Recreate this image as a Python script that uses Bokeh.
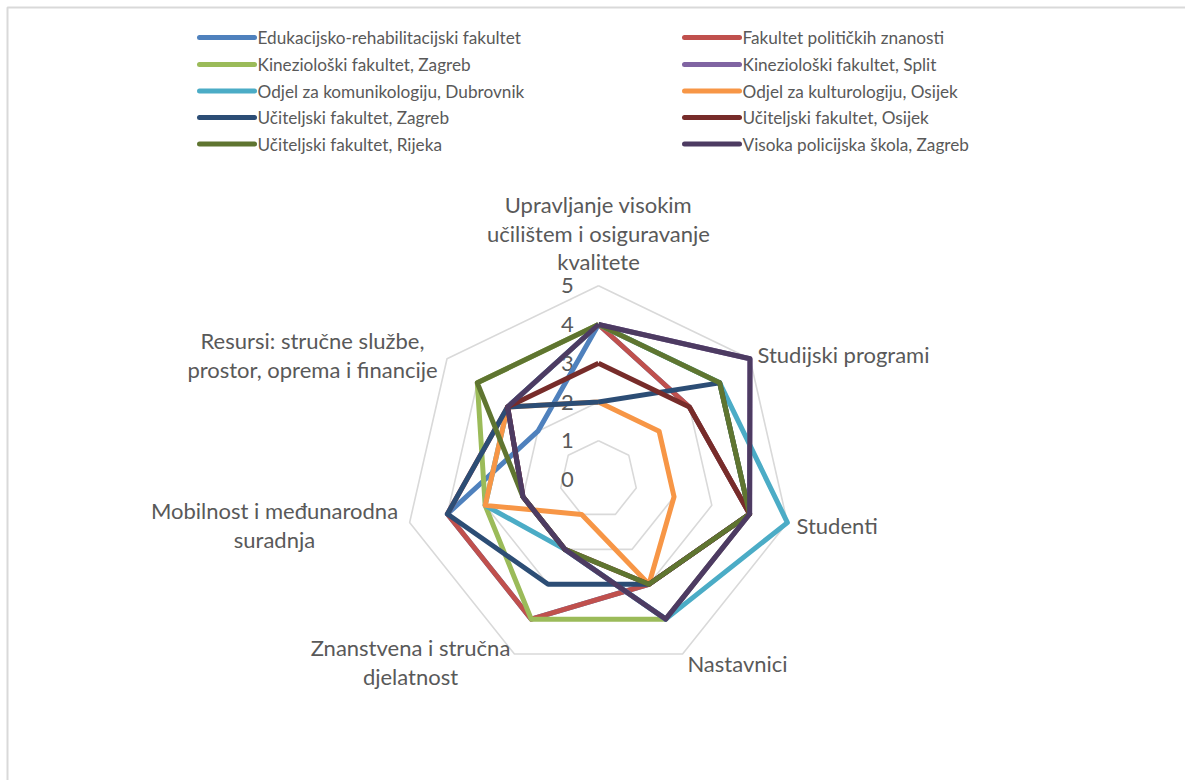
import math
from bokeh.plotting import figure
from bokeh.models import Range1d
from bokeh.core.properties import value
from bokeh.embed import file_html
from bokeh.resources import INLINE

# ---------------- data ----------------
categories = [
    ["Upravljanje visokim", "učilištem i osiguravanje", "kvalitete"],
    ["Studijski programi"],
    ["Studenti"],
    ["Nastavnici"],
    ["Znanstvena i stručna", "djelatnost"],
    ["Mobilnost i međunarodna", "suradnja"],
    ["Resursi: stručne službe,", "prostor, oprema i financije"],
]
series_names = [
    "Edukacijsko-rehabilitacijski fakultet",
    "Fakultet političkih znanosti",
    "Kineziološki fakultet, Zagreb",
    "Kineziološki fakultet, Split",
    "Odjel za komunikologiju, Dubrovnik",
    "Odjel za kulturologiju, Osijek",
    "Učiteljski fakultet, Zagreb",
    "Učiteljski fakultet, Osijek",
    "Učiteljski fakultet, Rijeka",
    "Visoka policijska škola, Zagreb",
]
edukacijsko = [4, 3, 4, 3, 4, 4, 2]
politicke = [4, 3, 4, 3, 4, 4, 3]
kinezio_zagreb = [4, 4, 4, 4, 4, 3, 4]
kinezio_split = [4, 5, 4, 4, 2, 2, 3]
komunikologija = [4, 4, 5, 4, 2, 3, 3]
kulturologija = [2, 2, 2, 3, 1, 3, 3]
uciteljski_zagreb = [2, 4, 4, 3, 3, 4, 3]
uciteljski_osijek = [3, 3, 4, 3, 2, 2, 3]
uciteljski_rijeka = [4, 4, 4, 3, 2, 2, 4]
policijska = [4, 5, 4, 4, 2, 2, 3]
series_values = [edukacijsko, politicke, kinezio_zagreb, kinezio_split, komunikologija,
                 kulturologija, uciteljski_zagreb, uciteljski_osijek, uciteljski_rijeka, policijska]
series_colors = ["#4F81BD", "#C0504D", "#9BBB59", "#8064A2", "#4BACC6",
                 "#F79646", "#2C4D75", "#772C2A", "#5F7530", "#4D3B62"]
tick_values = [0, 1, 2, 3, 4, 5]

# ---------------- layout ----------------
W, H = 1185, 780
CX, CY = 598, 479          # radar centre (px)
UNIT = 38.75               # px per value unit
FONT = "Lato"
GRAY = "#595959"

p = figure(width=W, height=H, output_backend="svg", toolbar_location=None,
           x_range=Range1d(0, W), y_range=Range1d(H, 0), min_border=0)
p.axis.visible = False
p.grid.visible = False
p.outline_line_color = None
p.background_fill_color = "white"

# chart-area border (top and left visible)
p.line([7, 7, W], [H, 7, 7], line_color="#D9D9D9", line_width=2)

n = len(categories)
angles = [math.pi / 2 - 2 * math.pi * k / n for k in range(n)]


def to_xy(vals):
    xs = [CX + v * UNIT * math.cos(a) for v, a in zip(vals, angles)]
    ys = [CY - v * UNIT * math.sin(a) for v, a in zip(vals, angles)]
    return xs + xs[:1], ys + ys[:1]


# grid rings
for t in tick_values[1:]:
    gx, gy = to_xy([t] * n)
    p.line(gx, gy, line_color="#D9D9D9", line_width=1.6)

# tick labels
p.text(x=[CX - 31] * len(tick_values), y=[CY - t * UNIT for t in tick_values],
       text=[str(t) for t in tick_values], text_font=value(FONT), text_font_size="22px",
       text_color=GRAY, text_align="center", text_baseline="middle")

# category labels
label_pos = [
    (598, 204, "center"),
    (757, 354, "left"),
    (796, 525, "left"),
    (737, 663, "center"),
    (410, 647, "center"),
    (274, 510, "center"),
    (312, 340, "center"),
]
LINE_H = 28.5
for lines, (lx, ly, al) in zip(categories, label_pos):
    p.text(x=[lx] * len(lines), y=[ly + i * LINE_H for i in range(len(lines))], text=lines,
           text_font=value(FONT), text_font_size="22px", text_color=GRAY,
           text_align=al, text_baseline="middle")

# series
for vals, col in zip(series_values, series_colors):
    sx, sy = to_xy(vals)
    p.line(sx, sy, line_color=col, line_width=5, line_join="round")

# legend (2 columns, row-major)
col_x = [199, 684]
row_y = [37, 64, 90.5, 117, 143.5]
for i, (name, col) in enumerate(zip(series_names, series_colors)):
    cx0 = col_x[i % 2]
    ry = row_y[i // 2]
    p.line([cx0, cx0 + 55], [ry, ry], line_color=col, line_width=5, line_cap="round")
    p.text(x=[cx0 + 58], y=[ry], text=[name], text_font=value(FONT), text_font_size="17.2px",
           text_color=GRAY, text_align="left", text_baseline="middle")

open("out.html", "w").write(file_html(p, INLINE))
